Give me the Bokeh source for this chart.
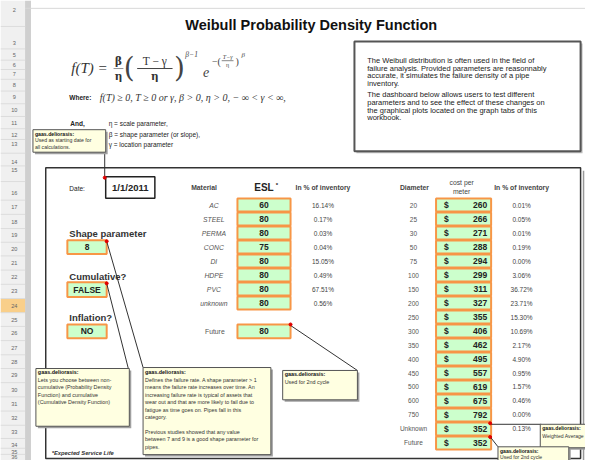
from bokeh.plotting import figure
from bokeh.models import Range1d
from bokeh.embed import file_html
from bokeh.resources import INLINE
from bokeh.core.properties import value

# ---------------- data ----------------
title = "Weibull Probability Density Function"
row_numbers = ["2", "3", "5", "6", "7", "8", "9", "10", "11", "12", "13", "14", "15", "16", "17",
               "18", "19", "20", "21", "22", "23", "24", "25", "26", "27", "28", "29", "30", "31",
               "32", "33", "34", "35", "36"]
start_date = "1/1/2011"
shape_parameter = "8"
cumulative = "FALSE"
inflation = "NO"
materials = ["AC", "STEEL", "PERMA", "CONC", "DI", "HDPE", "PVC", "unknown"]
esl = [60, 80, 80, 75, 80, 80, 80, 80]
material_pct = [16.14, 0.17, 0.03, 0.04, 15.05, 0.49, 67.51, 0.56]
future_esl = 80
diameters = ["20", "25", "30", "50", "75", "100", "150", "200", "250", "300", "350", "400",
             "450", "500", "600", "750", "Unknown", "Future"]
cost_per_meter = [260, 266, 271, 288, 294, 299, 311, 327, 355, 406, 462, 495, 557, 619, 675,
                  792, 352, 352]
diameter_pct = [0.01, 0.05, 0.01, 0.19, 0.00, 3.06, 36.72, 23.71, 15.30, 10.69, 2.17, 4.90,
                0.95, 1.57, 0.46, 0.00, 0.13, None]
intro_text = ["The Weibull distribution is often used in the field of",
              "failure analysis.  Provided parameters are reasonnably",
              "accurate, it simulates the failure density of a pipe",
              "inventory.",
              "",
              "The dashboard below allows users to test different",
              "parameters and to see the effect of these changes on",
              "the graphical plots located on the graph tabs of this",
              "workbook."]
author = "gaas.deliorasis:"
note_date = ["Used as starting date for", "all calculations."]
note_cumulative = ["Lets you choose between non-", "cumulative (Probability Density",
                   "Function) and cumulative", "(Cumulative Density Function)"]
note_shape = ["Defines the failure rate. A shape parameter > 1",
              "means the failure rate increases over time. An",
              "increasing failure rate is typical of assets that",
              "wear out and that are more likely to fail due to",
              "fatigue as time goes on. Pipes fall in this",
              "category.",
              "",
              "Previous studies showed that any value",
              "between 7 and 9 is a good shape parameter for",
              "pipes."]
note_future = ["Used for 2nd cycle"]
note_weighted = ["Weighted Average"]

# ---------------- layout ----------------
row_y = [10, 43, 56, 66, 75, 86, 99, 112, 125, 137, 147, 165, 173, 197, 211, 226, 240, 254,
         268, 283, 297, 312, 326, 340, 355, 369, 383, 398, 412, 427, 441, 454, 461, 466.5]
GREEN = "#ccffcc"
ORANGE = "#f79646"
NOTE = "#ffffe1"

p = figure(width=585, height=460, x_range=Range1d(0, 595), y_range=Range1d(470, 0),
           output_backend="svg", toolbar_location=None, min_border=0,
           x_axis_location=None, y_axis_location=None)
p.grid.visible = False
p.outline_line_color = None
p.background_fill_color = "white"


def txt(x, y, s, size=7, bold=False, italic=False, align="left", color="#222",
        font="Liberation Sans"):
    style = "bold italic" if (bold and italic) else "bold" if bold else "italic" if italic else "normal"
    p.text(x=[x], y=[y], text=[s], text_font=value(font), text_font_size=f"{size}px",
           text_font_style=style, text_align=align, text_baseline="middle", text_color=color)


def box(l, t, r, b, fill=None, line="#333", lw=1, shadow=None, off=2):
    if shadow:
        p.quad(left=l + off, right=r + off, top=t + off, bottom=b + off,
               fill_color=shadow, line_color=None)
    p.quad(left=l, right=r, top=t, bottom=b, fill_color=fill, line_color=line, line_width=lw,
           fill_alpha=1 if fill else 0)


def seg(x0, y0, x1, y1, color="#333", w=1):
    p.segment(x0=[x0], y0=[y0], x1=[x1], y1=[y1], line_color=color, line_width=w)


# ---- row header column ----
p.quad(left=0, right=25, top=0, bottom=480, fill_color="#f0f0f0", line_color=None)
p.quad(left=25, right=31, top=0, bottom=480, fill_color="#cfcfcf", line_color=None)
mids = [(a + b) / 2 for a, b in zip(row_y[:-1], row_y[1:])]
i24 = row_numbers.index("24")
p.quad(left=0, right=25, top=mids[i24 - 1], bottom=mids[i24], fill_color="#f9cf8a", line_color=None)
p.segment(x0=[0] * len(mids), y0=mids, x1=[25] * len(mids), y1=mids, line_color="#dcdcdc", line_width=1)
p.text(x=[14] * len(row_numbers), y=row_y, text=row_numbers, text_font=value("Liberation Sans"),
       text_font_size="5.6px", text_align="center", text_baseline="middle", text_color="#666")
seg(25, 8, 601, 8, "#d8d8d8")

# ---- title ----
txt(316, 25, title, 14.5, bold=True, align="center", color="#111")

# ---- formula ----
SER = "Liberation Serif"
txt(72, 69, "f(T)", 15, italic=True, font=SER, color="#333")
txt(104, 69, "=", 15, align="center", font=SER, color="#333")
txt(120, 62, "β", 10.5, bold=True, align="center", font="DejaVu Serif", color="#333")
seg(115, 69.5, 125, 69.5, "#777", 0.8)
txt(120, 77, "η", 10.5, bold=True, align="center", font="DejaVu Serif", color="#333")
txt(131, 68, "(", 28, align="center", font="DejaVu Serif", color="#444")
txt(157, 62, "T − γ", 11.5, align="center", font=SER, color="#333")
seg(139, 69.5, 175, 69.5, "#444", 1)
txt(157, 77, "η", 10.5, bold=True, align="center", font="DejaVu Serif", color="#333")
txt(182, 68, ")", 28, align="center", font="DejaVu Serif", color="#444")
txt(188, 55, "β−1", 7.5, italic=True, font=SER, color="#444")
txt(206, 73, "e", 14, italic=True, font=SER, color="#444")
txt(215, 62, "−(", 10, font=SER, color="#444")
txt(231, 58, "T−γ", 6, italic=True, align="center", font=SER, color="#444")
seg(225, 61.5, 237, 61.5, "#555", 0.7)
txt(231, 65.5, "η", 6, align="center", font=SER, color="#444")
txt(239, 62, ")", 10, font=SER, color="#444")
txt(245, 56, "β", 7, italic=True, font=SER, color="#444")

txt(70, 99, "Where:", 6.5, bold=True)
txt(101, 99, "f(T) ≥ 0,  T ≥ 0 or γ,  β > 0,  η > 0,   − ∞ < γ < ∞,", 10, italic=True,
    font=SER, color="#333")
txt(71, 126, "And,", 6.5, bold=True)
txt(110, 126, "η = scale parameter,", 6.5)
txt(110, 137, "β = shape parameter (or slope),", 6.5)
txt(110, 147, "γ = location parameter", 6.5)

# ---- intro text box ----
box(360, 42, 590, 154, fill="white", line="#555", lw=2, shadow="#bbbbbb")
iy = 61
for line in intro_text:
    if line:
        txt(373, iy, line, 7.5)
    iy += 8 if line else 3

# ---- dashboard frame ----
seg(49, 470.5, 593, 470.5, "#999", 1.5)
seg(593, 174, 593, 471, "#999", 1.5)
box(46, 171, 590, 468, fill=None, line="#333", lw=1.5)

# date
txt(70, 192, "Date:", 6.5)
box(107, 180, 157, 202, fill="white", line="#222", lw=1.5)
txt(132, 191, start_date, 9.5, bold=True, align="center")

# left parameters
txt(70, 238, "Shape parameter", 9.5, bold=True, color="#333")
box(68, 245, 108, 259, fill=GREEN, line=ORANGE, lw=2)
txt(88, 252, shape_parameter, 8.5, bold=True, align="center")
txt(70, 282, "Cumulative?", 9.5, bold=True, color="#333")
box(68, 288, 108, 303, fill=GREEN, line=ORANGE, lw=2)
txt(88, 295.5, cumulative, 8.5, bold=True, align="center")
txt(70, 324, "Inflation?", 9.5, bold=True, color="#333")
box(68, 331, 108, 345, fill=GREEN, line=ORANGE, lw=2)
txt(88, 338, inflation, 8.5, bold=True, align="center")

# material table
Y0, DY = 209, 14.3
txt(207, 191, "Material", 6.8, bold=True, align="center", color="#444")
txt(268, 191, "ESL", 10, bold=True, align="center")
txt(280, 188, "*", 6, bold=True)
txt(328, 191, "In % of inventory", 6.8, bold=True, align="center", color="#444")
my = [Y0 + DY * i for i in range(len(materials))]
p.quad(left=241, right=295, top=[y - 6.6 for y in my], bottom=[y + 6.6 for y in my],
       fill_color=GREEN, line_color=ORANGE, line_width=2)
p.text(x=[217] * len(materials), y=my, text=materials, text_font=value("Liberation Sans"),
       text_font_size="6.8px", text_font_style="italic", text_align="center",
       text_baseline="middle", text_color="#555")
p.text(x=[268] * len(esl), y=my, text=[str(v) for v in esl], text_font=value("Liberation Sans"),
       text_font_size="8.5px", text_font_style="bold", text_align="center",
       text_baseline="middle", text_color="#222")
p.text(x=[328] * len(material_pct), y=my, text=[f"{v:.2f}%" for v in material_pct],
       text_font=value("Liberation Sans"), text_font_size="6.5px", text_align="center",
       text_baseline="middle", text_color="#444")
txt(218, 338, "Future", 6.8, align="center", color="#555")
box(241, 331, 295, 345, fill=GREEN, line=ORANGE, lw=2)
txt(268, 338, str(future_esl), 8.5, bold=True, align="center")

# diameter table
txt(421, 191, "Diameter", 6.8, bold=True, align="center", color="#444")
txt(469, 186, "cost per", 6.8, align="center", color="#444")
txt(469, 195, "meter", 6.8, align="center", color="#444")
txt(530, 191, "In % of inventory", 6.8, bold=True, align="center", color="#444")
dy = [Y0 + DY * i for i in range(len(diameters))]
p.quad(left=443, right=499, top=[y - 6.6 for y in dy], bottom=[y + 6.6 for y in dy],
       fill_color=GREEN, line_color=ORANGE, line_width=2)
p.text(x=[420] * len(diameters), y=dy, text=diameters, text_font=value("Liberation Sans"),
       text_font_size="6.5px", text_align="center", text_baseline="middle", text_color="#555")
p.text(x=[451] * len(diameters), y=dy, text=["$"] * len(diameters),
       text_font=value("Liberation Sans"), text_font_size="8.5px", text_font_style="bold",
       text_align="left", text_baseline="middle", text_color="#222")
p.text(x=[495] * len(cost_per_meter), y=dy, text=[str(v) for v in cost_per_meter],
       text_font=value("Liberation Sans"), text_font_size="8.5px", text_font_style="bold",
       text_align="right", text_baseline="middle", text_color="#222")
pct_y = [y for y, v in zip(dy, diameter_pct) if v is not None]
pct_t = [f"{v:.2f}%" for v in diameter_pct if v is not None]
p.text(x=[530] * len(pct_t), y=pct_y, text=pct_t, text_font=value("Liberation Sans"),
       text_font_size="6.5px", text_align="center", text_baseline="middle", text_color="#444")

txt(52, 462, "*Expected Service Life", 5.8, bold=True, italic=True, color="#333")

# ---- comment connectors ----
seg(106, 155, 106, 181)
seg(108, 246, 145, 375)
seg(108, 289, 130, 376)
seg(295, 332, 363, 378)
seg(499, 433, 550, 433)
seg(499, 447, 506, 456)
p.scatter(x=[106, 108, 108, 295, 498, 498], y=[181, 246, 289, 331, 432, 446],
          size=3, color="#e00000", marker="circle")


# ---- comment boxes ----
def note(l, t, r, b, lines, y0, step=7.6, size=5.4):
    box(l, t, r, b, fill=NOTE, line="#555", lw=1, shadow="#a0a0a0", off=2)
    txt(l + 2, y0, author, size, bold=True, color="#111")
    yy = y0 + step
    for ln in lines:
        if ln:
            txt(l + 2, yy, ln, size, color="#333")
        yy += step


note(33, 132, 107, 155, note_date, 136.5, step=6.5, size=5.2)
note(36, 376, 131, 435, note_cumulative, 380)
note(145, 375, 275, 464, note_shape, 380)
note(287, 378, 363, 408, note_future, 382)
note(549, 433, 612, 457, note_weighted, 437, size=5.1)
note(506, 456, 578, 480, note_future, 460, step=6.5, size=5.1)

open("out.html", "w").write(file_html(p, INLINE))
